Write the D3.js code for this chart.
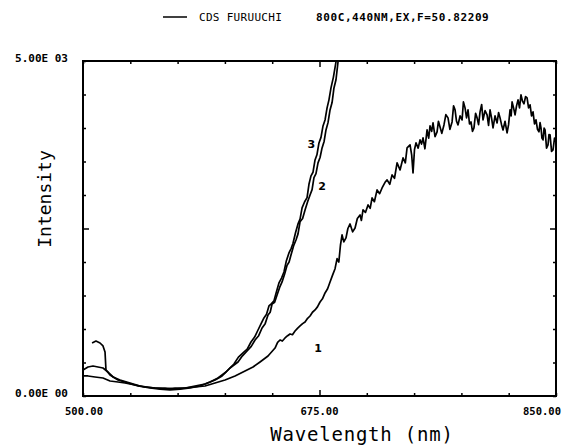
<!DOCTYPE html>
<html><head><meta charset="utf-8">
<script src="https://cdn.jsdelivr.net/npm/d3@7"></script>
<style>body{margin:0;background:#fff}svg{display:block}</style>
</head><body><svg id="c" width="563" height="445"></svg>
<script>
// ---- data (wavelength nm, intensity) ----
const xDomain = [500, 850];
const yDomain = [0, 5000];
const xTickValues = [500, 535, 570, 605, 640, 675, 710, 745, 780, 815, 850];
const xTickLabels = ["500.00", "675.00", "850.00"];
const xLabelValues = [500, 675, 850];
const yTickValues = [0, 500, 1000, 1500, 2000, 2500, 3000, 3500, 4000, 4500, 5000];
const yTickLabels = ["0.00E 00", "5.00E 03"];
const yLabelValues = [0, 5000];
const legendLabel = "CDS FURUUCHI";
const legendNote = "800C,440NM,EX,F=50.82209";
const xTitle = "Wavelength (nm)";
const yTitle = "Intensity";

const curve1wl = [500,503.7,508.9,514.8,520,525.9,531.1,538.5,545.9,553.3,560.7,568.1,575.5,582.9,590.3,597.7,605.1,612.5,619.9,625.8,631,636.9,
  642.1,644,645.8,647.5,649.5,651.4,653.2,655,656.9,658.7,660.6,662.5,664.3,666.2,668,669.8,671.7,673.5,675.4,677.2,679.1,681,682.8,684.6,686.5,688,689.3,690.5,691.7,693,694.6,696,697.6,699.5,701.3,703,705,706,707.2,709,710.9,712.5,713.9,715.6,717.6,719.5,
  721.3,723.5,725,727,728.7,730.5,732.4,734.6,736.8,738.5,739.8,742,743.2,744.2,745.3,746.4,748,749.4,750.5,751.6,753,754.6,755.8,756.8,758,759,760.5,762,763,764.2,765.5,767.1,768.5,770.1,771.5,773.1,774.2,775.3,776.4,777.5,779,780.5,781.5,782.7,783.8,784.9,786,787.1,788.2,789.3,790.5,791.6,792.7,793.8,795,796,797.5,799,800.1,801.2,802.3,803.4,804.9,806.4,807.5,808.6,809.7,810.8,812.3,813.8,814.9,816,816.8,817.5,818.6,819.7,820.8,821.9,823,824.1,825.2,826.3,827.5,828.6,829.7,830.8,831.9,833,834.1,835.2,836.3,837.4,838.2,838.9,839.6,840.4,841.2,841.9,843,844.1,844.8,845.6,846.7,847.8,848.9,850];
const curve1 = [299,299,284,269,224,209,194,164,134,119,119,104,119,134,149,194,239,299,373,433,508,597,
  716,800,836,820,866,900,926,915,970,1010,1045,1080,1105,1160,1194,1250,1284,1330,1403,1450,1538,1600,1702,1800,1900,2050,2000,2250,2404,2300,2359,2500,2568,2450,2508,2650,2702,2620,2777,2740,2852,2800,2956,2900,3076,3020,
  3105,3190,3225,3160,3300,3250,3479,3374,3553,3480,3703,3747,3600,3329,3680,3777,3700,3822,3760,3852,3690,3971,3850,4031,3950,4076,3870,3942,4100,4016,3920,4046,4200,4151,3980,4091,4330,4270,4100,4046,4180,4121,4390,4300,4150,4270,4060,4091,3950,4001,4220,4151,4050,4240,4350,4121,4260,4195,4040,4270,4150,4001,4180,4076,4230,4151,4050,3971,4100,3927,4050,4270,4180,4389,4300,4195,4330,4419,4300,4494,4400,4360,4470,4449,4300,4345,4180,4240,4060,4121,3980,3942,4080,4001,3850,3822,4000,3971,3700,3747,3900,3897,3650,3673,3850,3792];

const curve2wl = [500,503.7,507.4,511.1,514.8,518.5,522.2,527.4,534.8,542.2,547.4,553.3,560.7,568.1,575.5,582.9,590.3,597.7,602.9,608.8,614.7,618,621.4,624.5,627.3,630,632.5,634.8,636.9,638.5,639.9,641.8,643.6,645.5,647.3,649.2,651,652.5,653.9,655.8,657.6,659.1,660.6,662.5,664.3,666.2,668,669.5,670.9,672.4,673.9,675.4,676.9,678.4,679.8,681.3,682.8,684.3,685.7,687.2,688.7,690.9];
const curve2 = [388,433,448,433,418,358,284,239,194,149,134,119,104,119,119,149,179,239,299,418,508,600,672,740,836,900,1015,1080,1209,1250,1374,1400,1508,1620,1702,1820,1950,2000,2105,2240,2329,2420,2600,2650,2777,2900,3001,3080,3260,3320,3479,3560,3703,3800,3971,4080,4270,4380,4598,4720,4986,5315];

const curve3wl = [506.7,509.6,512.6,514.8,516.3,517,520,525.9,533.3,540.7,549.6,557,564.4,571.8,579.2,586.6,594,599.9,605.8,611.7,615,618.4,621.5,624.3,627,629.5,631.8,633.9,635.8,637.6,639.5,641.3,643.2,645,646.9,648.7,650.5,652.4,654,655.4,657.3,659.1,660.6,662.1,664,665.8,667.2,668.7,670.2,671.7,673.1,674.6,676.1,677.6,679.1,680.6,682,683.5,685.3,687.2,689.4];
const curve3 = [791,821,791,747,657,388,314,239,194,149,119,104,90,104,119,149,209,269,358,478,580,642,700,806,880,985,1080,1165,1220,1344,1380,1420,1560,1687,1760,1850,2020,2135,2200,2280,2440,2568,2640,2807,2900,2960,3160,3285,3340,3523,3600,3777,3860,4031,4120,4300,4420,4598,4760,4986,5315];

const curveLabels = ["1", "2", "3"];
const curveLabelAt = [[674, 650], [677, 3080], [669, 3700]];

// ---- drawing ----
const svg = d3.select("#c");
const m = {left: 83, right: 556, top: 61, bottom: 396};
const x = d3.scaleLinear().domain(xDomain).range([m.left, m.right]);
const y = d3.scaleLinear().domain(yDomain).range([m.bottom, m.top]);
const mono = "'DejaVu Sans Mono', monospace";

svg.append("defs").append("clipPath").attr("id", "clip")
  .append("rect").attr("x", m.left).attr("y", m.top)
  .attr("width", m.right - m.left).attr("height", m.bottom - m.top);

// axes (ticks inward)
const tickLen = v => (v === 675 || v === 2500) ? 6 : 3;
function styleAxis(g) {
  g.select(".domain").remove();
  g.selectAll("line").attr("stroke", "#000").attr("stroke-width", 1.5);
  g.selectAll("text").remove();
}
svg.append("g").attr("transform", `translate(0,${m.bottom})`)
  .call(d3.axisTop(x).tickValues(xTickValues).tickSize(3)).call(styleAxis)
  .selectAll(".tick line").attr("y2", d => -tickLen(d));
svg.append("g").attr("transform", `translate(0,${m.top})`)
  .call(d3.axisBottom(x).tickValues(xTickValues).tickSize(3)).call(styleAxis)
  .selectAll(".tick line").attr("y2", d => tickLen(d));
svg.append("g").attr("transform", `translate(${m.left},0)`)
  .call(d3.axisRight(y).tickValues(yTickValues).tickSize(3)).call(styleAxis)
  .selectAll(".tick line").attr("x2", d => tickLen(d));
svg.append("g").attr("transform", `translate(${m.right},0)`)
  .call(d3.axisLeft(y).tickValues(yTickValues).tickSize(3)).call(styleAxis)
  .selectAll(".tick line").attr("x2", d => -tickLen(d));

// frame
svg.append("rect").attr("x", m.left).attr("y", m.top)
  .attr("width", m.right - m.left).attr("height", m.bottom - m.top)
  .attr("fill", "none").attr("stroke", "#000").attr("stroke-width", 2);

// curves
const line = d3.line().x(d => x(d[0])).y(d => y(d[1]));
const series = [[curve1wl, curve1], [curve2wl, curve2], [curve3wl, curve3]];
const cg = svg.append("g").attr("clip-path", "url(#clip)");
series.forEach(([wl, v]) => {
  cg.append("path").datum(wl.map((w, i) => [w, v[i]]))
    .attr("d", line).attr("fill", "none").attr("stroke", "#000")
    .attr("stroke-width", 1.7).attr("stroke-linejoin", "round");
});

// curve labels
curveLabels.forEach((t, i) => {
  svg.append("text").attr("x", x(curveLabelAt[i][0])).attr("y", y(curveLabelAt[i][1]))
    .attr("text-anchor", "middle").attr("font-family", "'DejaVu Sans', sans-serif")
    .attr("font-size", 11).attr("font-weight", "bold").text(t);
});

// tick labels
const xOff = [1, 0, -14];
xLabelValues.forEach((v, i) => {
  svg.append("text").attr("x", x(v) + xOff[i]).attr("y", 415)
    .attr("text-anchor", "middle").attr("font-family", mono).attr("font-weight", "bold")
    .attr("font-size", 10.5).text(xTickLabels[i]);
});
yLabelValues.forEach((v, i) => {
  svg.append("text").attr("x", 68).attr("y", y(v) + 1)
    .attr("text-anchor", "end").attr("font-family", mono).attr("font-weight", "bold")
    .attr("font-size", 11).text(yTickLabels[i]);
});

// axis titles
svg.append("text").attr("x", 362).attr("y", 441).attr("text-anchor", "middle")
  .attr("font-family", mono).attr("font-size", 19).attr("letter-spacing", 0.8).text(xTitle);
svg.append("text").attr("transform", "translate(51,199) rotate(-90)").attr("text-anchor", "middle")
  .attr("font-family", mono).attr("font-size", 18).text(yTitle);

// legend
svg.append("line").attr("x1", 163).attr("x2", 187).attr("y1", 17).attr("y2", 17)
  .attr("stroke", "#000").attr("stroke-width", 1.5);
svg.append("text").attr("x", 199).attr("y", 21).attr("font-family", mono).attr("font-size", 11)
  .attr("letter-spacing", 0.3).text(legendLabel);
svg.append("text").attr("x", 316).attr("y", 21).attr("font-family", mono).attr("font-size", 11)
  .attr("font-weight", "bold").attr("letter-spacing", 0.6).text(legendNote);
</script></body></html>
